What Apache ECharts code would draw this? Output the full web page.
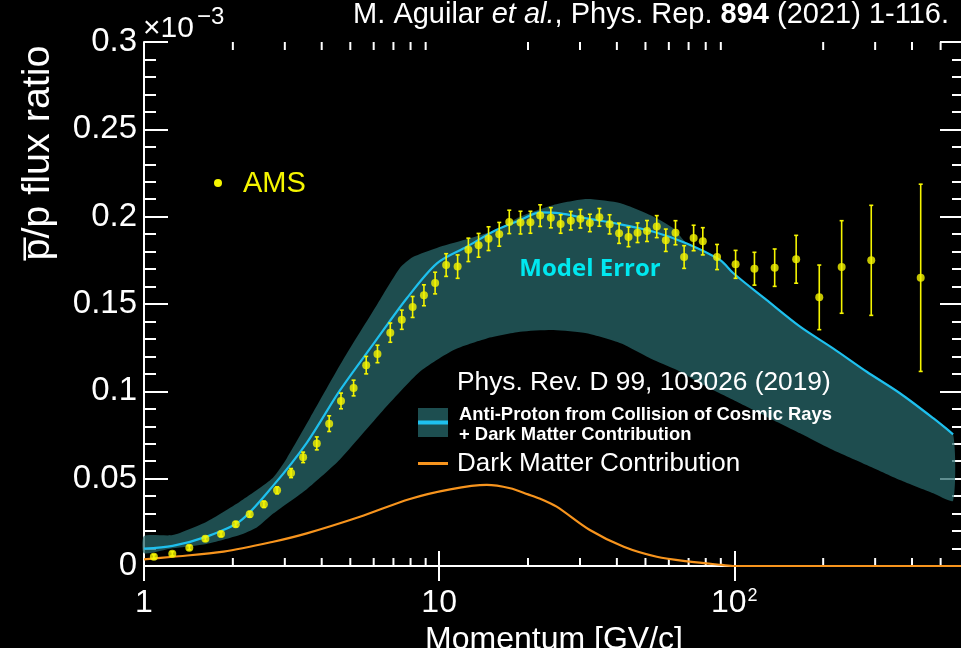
<!DOCTYPE html>
<html>
<head>
<meta charset="utf-8">
<script src="https://cdn.jsdelivr.net/npm/echarts@6/dist/echarts.min.js"></script>
<style>
  html, body { margin: 0; padding: 0; background: #000; }
  #chart { width: 961px; height: 648px; }
</style>
</head>
<body>
<div id="chart"></div>
<script>
// AMS antiproton-to-proton flux ratio (units of 1e-3) versus rigidity [GV/c]
const amsMomentum = [1.08, 1.247, 1.424, 1.614, 1.824, 2.046, 2.281, 2.548, 2.824, 3.15,
  3.46, 3.85, 4.24, 4.65, 5.13, 5.66, 6.18, 6.83, 7.47, 8.13,
  8.88, 9.69, 10.56, 11.55, 12.56, 13.6, 14.7, 15.98, 17.28, 18.86,
  20.38, 21.99, 23.9, 25.8, 27.93, 30.1, 32.4, 34.9, 37.8, 40.7,
  43.8, 47.0, 50.6, 54.6, 58.6, 63.2, 67.6, 72.8, 78.2, 87.4,
  101, 117, 137, 162, 194, 231, 291, 428];
const amsRatio = [0.0053, 0.0070, 0.0105, 0.0156, 0.0183, 0.0239, 0.0296, 0.0353, 0.0433, 0.0532,
  0.0622, 0.0702, 0.0815, 0.0945, 0.1019, 0.1150, 0.1214, 0.1336, 0.1410, 0.1483,
  0.1550, 0.1620, 0.1723, 0.1714, 0.1810, 0.1836, 0.1874, 0.1899, 0.1970, 0.1966,
  0.1968, 0.2006, 0.1994, 0.1958, 0.1977, 0.1988, 0.1964, 0.1996, 0.1956, 0.1905,
  0.1884, 0.1908, 0.1918, 0.1943, 0.1865, 0.1908, 0.1769, 0.1878, 0.1859, 0.1769,
  0.1727, 0.1702, 0.1708, 0.1756, 0.1538, 0.1712, 0.1750, 0.1650];
const amsError = [0.0012, 0.0012, 0.0012, 0.0013, 0.0014, 0.0015, 0.0016, 0.0018, 0.0020, 0.0026,
  0.0030, 0.0037, 0.0045, 0.0045, 0.0045, 0.0050, 0.0050, 0.0055, 0.0055, 0.0060,
  0.0060, 0.0062, 0.0065, 0.0067, 0.0067, 0.0068, 0.0068, 0.0068, 0.0067, 0.0065,
  0.0063, 0.0062, 0.0058, 0.0053, 0.0053, 0.0053, 0.0050, 0.0051, 0.0055, 0.0058,
  0.0056, 0.0056, 0.0060, 0.0063, 0.0064, 0.0069, 0.0065, 0.0073, 0.0078, 0.0072,
  0.0080, 0.0094, 0.0107, 0.0137, 0.0185, 0.0265, 0.0315, 0.0536];

// Model uncertainty band (cosmic-ray collisions + dark matter): upper and lower bounds
const bandUpperMomentum = [1, 1.25, 1.63, 2.11, 2.73, 3.05, 3.65, 4.72, 6.15, 7.36,
  8.15, 9.82, 12.1, 15.6, 18.8, 24.4, 31.6, 41.2, 53.3, 62.2,
  69, 89.5, 99.3, 128.5, 167, 216, 281, 364, 472, 551];
const bandUpper = [0.0172, 0.0177, 0.0254, 0.0368, 0.0504, 0.0618, 0.0847, 0.1179, 0.1494, 0.1706,
  0.1769, 0.1821, 0.1866, 0.1924, 0.2000, 0.2067, 0.2101, 0.2077, 0.2000, 0.1933,
  0.1847, 0.1752, 0.1676, 0.1523, 0.1370, 0.1246, 0.1112, 0.0989, 0.0846, 0.0754];
const bandLowerMomentum = [1, 1.25, 1.63, 2.11, 2.41, 2.74, 3.56, 4.61, 6.45, 8.6,
  11.2, 14.5, 18.8, 24.4, 31.6, 41.2, 53.3, 65.7, 76.5, 99.3,
  128.5, 167, 216, 281, 364, 472, 551];
const bandLower = [0.0073, 0.0101, 0.0126, 0.0177, 0.0220, 0.0300, 0.0440, 0.0610, 0.0890, 0.1112,
  0.1237, 0.1303, 0.1341, 0.1351, 0.1332, 0.1275, 0.1179, 0.1112, 0.1046, 0.0950,
  0.0855, 0.0760, 0.0664, 0.0578, 0.0492, 0.0416, 0.0374];

// Central model curve
const modelMomentum = [1, 1.25, 1.63, 2.11, 2.74, 3.56, 4.61, 5.98, 7.77, 9.83,
  12.4, 15.6, 18.8, 22, 25.7, 31.6, 41.2, 53.3, 69, 89.5,
  99.3, 128.5, 167, 216, 281, 364, 472, 551];
const modelRatio = [0.0099, 0.0115, 0.0168, 0.0255, 0.0460, 0.0705, 0.1005, 0.1270, 0.1533, 0.1733,
  0.1828, 0.1924, 0.1980, 0.2025, 0.2019, 0.1990, 0.1956, 0.1914, 0.1847, 0.1752,
  0.1676, 0.1523, 0.1370, 0.1246, 0.1112, 0.0989, 0.0846, 0.0754];

// Dark matter contribution alone
const dmMomentum = [1, 1.256, 1.86, 2.74, 3.56, 5.39, 7.96, 10.9, 14.5, 17.4,
  20, 22, 25, 32.4, 42.2, 54.6, 70.6, 91, 100, 600];
const dmRatio = [0.0038, 0.0053, 0.0082, 0.0139, 0.0187, 0.0282, 0.0384, 0.0439, 0.0464, 0.0445,
  0.0410, 0.0385, 0.0340, 0.0206, 0.0110, 0.0053, 0.0025, 0.0006, 0, 0];

// Axis ticks
const xTickLabels = ['1', '10', '10{sup|2}'];
const xMinorTicks = [2, 3, 4, 5, 6, 7, 8, 9, 20, 30, 40, 50, 60, 70, 80, 90, 200, 300, 400, 500];
const yTickLabels = ['0', '0.05', '0.1', '0.15', '0.2', '0.25', '0.3'];

const FONT = '"Liberation Sans", Arial, Helvetica, sans-serif';
const WHITE = '#ffffff';
const YELLOW = '#f5f500';
const CYAN = '#1ec0ee';
const ORANGE = '#f7941d';
const BAND = 'rgba(40,104,107,0.74)';

const chart = echarts.init(document.getElementById('chart'), null, { renderer: 'canvas' });

function zip(a, b) { return a.map((v, i) => [v, b[i]]); }

const axisLineStyle = { color: WHITE, width: 2 };

const option = {
  backgroundColor: '#000000',
  animation: false,
  grid: { left: 144, top: 42, width: 820, height: 524, containLabel: false, outerBoundsMode: 'none' },
  xAxis: [
    {
      type: 'log', logBase: 10, min: 1, max: 600, position: 'bottom',
      axisLine: { show: true, lineStyle: axisLineStyle },
      axisTick: { show: true, inside: true, length: 15, lineStyle: axisLineStyle },
      splitLine: { show: false },
      axisLabel: {
        show: true, margin: 21, color: WHITE, fontSize: 32, fontFamily: FONT,
        showMaxLabel: false,
        formatter: v => xTickLabels[Math.round(Math.log10(v))] || '',
        rich: { sup: { fontSize: 18, fontFamily: FONT, color: WHITE, verticalAlign: 'top', padding: [0, 0, 14, 1] } }
      },
      name: 'Momentum [GV/c]', nameLocation: 'middle', nameGap: 49,
      nameTextStyle: { color: WHITE, fontSize: 32, fontFamily: FONT }
    },
    {
      type: 'log', logBase: 10, min: 1, max: 600, position: 'top',
      axisLine: { show: true, lineStyle: axisLineStyle },
      axisTick: { show: true, inside: true, length: 15, lineStyle: axisLineStyle },
      splitLine: { show: false },
      axisLabel: { show: false }
    }
  ],
  yAxis: [
    {
      type: 'value', min: 0, max: 0.3, interval: 0.05, position: 'left',
      axisLine: { show: true, lineStyle: axisLineStyle },
      axisTick: { show: true, inside: true, length: 24, lineStyle: axisLineStyle },
      minorTick: { show: true, splitNumber: 5, length: 12, lineStyle: axisLineStyle },
      splitLine: { show: false },
      axisLabel: {
        margin: 7, color: WHITE, fontSize: 33, fontFamily: FONT,
        formatter: v => yTickLabels[Math.round(v / 0.05)]
      }
    },
    {
      type: 'value', min: 0, max: 0.3, interval: 0.05, position: 'right',
      axisLine: { show: true, lineStyle: axisLineStyle },
      axisTick: { show: true, inside: true, length: 24, lineStyle: axisLineStyle },
      minorTick: { show: true, splitNumber: 5, length: 12, lineStyle: axisLineStyle },
      splitLine: { show: false },
      axisLabel: { show: false }
    }
  ],
  series: [
    {
      // minor ticks of the logarithmic momentum axis (bottom and top frame)
      type: 'custom', xAxisIndex: 0, yAxisIndex: 0, silent: true, z: 1, clip: false,
      data: xMinorTicks.map(v => [v, 0]),
      renderItem: (params, api) => {
        const v = api.value(0);
        const b = api.coord([v, 0]);
        const t = api.coord([v, 0.3]);
        const st = { stroke: WHITE, lineWidth: 2 };
        return {
          type: 'group', children: [
            { type: 'line', shape: { x1: b[0], y1: b[1], x2: b[0], y2: b[1] - 8 }, style: st },
            { type: 'line', shape: { x1: t[0], y1: t[1], x2: t[0], y2: t[1] + 8 }, style: st }
          ]
        };
      }
    },
    {
      // model error band
      type: 'custom', xAxisIndex: 0, yAxisIndex: 0, silent: true, z: 3, clip: false,
      data: [[1, 0]],
      renderItem: (params, api) => {
        const pts = [];
        bandUpperMomentum.forEach((m, i) => pts.push(api.coord([m, bandUpper[i]])));
        for (let i = bandLowerMomentum.length - 1; i >= 0; i--) {
          pts.push(api.coord([bandLowerMomentum[i], bandLower[i]]));
        }
        return { type: 'polygon', shape: { points: pts, smooth: 0.2 }, style: { fill: BAND } };
      }
    },
    {
      type: 'line', xAxisIndex: 0, yAxisIndex: 0, z: 4, silent: true,
      data: zip(modelMomentum, modelRatio),
      showSymbol: false, smooth: 0.3,
      lineStyle: { color: CYAN, width: 2.2 }
    },
    {
      type: 'line', xAxisIndex: 0, yAxisIndex: 0, z: 4, silent: true, clip: false,
      data: zip(dmMomentum, dmRatio),
      showSymbol: false, smooth: 0.3,
      lineStyle: { color: ORANGE, width: 2.2 }
    },
    {
      // AMS error bars
      type: 'custom', xAxisIndex: 0, yAxisIndex: 0, silent: true, z: 5,
      data: amsMomentum.map((m, i) => [m, amsRatio[i] - amsError[i], amsRatio[i] + amsError[i]]),
      renderItem: (params, api) => {
        const lo = api.coord([api.value(0), api.value(1)]);
        const hi = api.coord([api.value(0), api.value(2)]);
        const st = { stroke: YELLOW, lineWidth: 1.6 };
        return {
          type: 'group', children: [
            { type: 'line', shape: { x1: lo[0], y1: lo[1], x2: hi[0], y2: hi[1] }, style: st },
            { type: 'line', shape: { x1: lo[0] - 2, y1: lo[1], x2: lo[0] + 2, y2: lo[1] }, style: st },
            { type: 'line', shape: { x1: hi[0] - 2, y1: hi[1], x2: hi[0] + 2, y2: hi[1] }, style: st }
          ]
        };
      }
    },
    {
      type: 'scatter', xAxisIndex: 0, yAxisIndex: 0, z: 6, silent: true,
      data: zip(amsMomentum, amsRatio),
      symbol: 'circle', symbolSize: 8,
      itemStyle: { color: YELLOW }
    }
  ],
  graphic: [
    {
      type: 'text', x: 949, y: 0, z: 10,
      style: {
        text: '{n|M. Aguilar }{i|et al.}{n|, Phys. Rep. }{b|894}{n| (2021) 1-116.}',
        align: 'right', textAlign: 'right', verticalAlign: 'top', textVerticalAlign: 'top',
        fill: WHITE, fontSize: 29, fontFamily: FONT,
        rich: {
          n: { fontSize: 29, fontFamily: FONT, fill: WHITE, color: WHITE },
          i: { fontSize: 29, fontFamily: FONT, fontStyle: 'italic', fill: WHITE, color: WHITE },
          b: { fontSize: 29, fontFamily: FONT, fontWeight: 'bold', fill: WHITE, color: WHITE }
        }
      }
    },
    {
      type: 'text', x: 143, y: 14, z: 10,
      style: { text: '\u00d710', fill: WHITE, fontSize: 30, fontFamily: FONT, align: 'left', textAlign: 'left', verticalAlign: 'top', textVerticalAlign: 'top' }
    },
    {
      type: 'text', x: 197, y: 5, z: 10,
      style: { text: '\u22123', fill: WHITE, fontSize: 24, fontFamily: FONT, align: 'left', textAlign: 'left', verticalAlign: 'top', textVerticalAlign: 'top' }
    },
    {
      type: 'text', x: 38, y: 153, rotation: Math.PI / 2, z: 10,
      style: { text: 'p\u0305/p flux ratio', fill: WHITE, fontSize: 39.5, fontFamily: FONT, align: 'center', textAlign: 'center', verticalAlign: 'middle', textVerticalAlign: 'middle' }
    },
    {
      type: 'circle', z: 10, shape: { cx: 218, cy: 183, r: 4 }, style: { fill: YELLOW }
    },
    {
      type: 'text', x: 243, y: 184, z: 10,
      style: { text: 'AMS', fill: YELLOW, fontSize: 29, fontFamily: FONT, align: 'left', textAlign: 'left', verticalAlign: 'middle', textVerticalAlign: 'middle' }
    },
    {
      type: 'text', x: 590, y: 269, z: 10,
      style: { text: 'Model Error', fill: '#00e8f0', fontSize: 24, fontWeight: 'bold', fontFamily: '"Open Sans", sans-serif', align: 'center', textAlign: 'center', verticalAlign: 'middle', textVerticalAlign: 'middle' }
    },
    {
      type: 'text', x: 457, y: 383, z: 10,
      style: { text: 'Phys. Rev. D 99, 103026 (2019)', fill: WHITE, fontSize: 26.3, fontFamily: FONT, align: 'left', textAlign: 'left', verticalAlign: 'middle', textVerticalAlign: 'middle' }
    },
    {
      type: 'rect', z: 10, shape: { x: 418, y: 408, width: 30, height: 29 }, style: { fill: '#1d4e50' }
    },
    {
      type: 'line', z: 11, shape: { x1: 418, y1: 422.5, x2: 448, y2: 422.5 }, style: { stroke: CYAN, lineWidth: 4 }
    },
    {
      type: 'text', x: 459, y: 415, z: 10,
      style: { text: 'Anti-Proton from Collision of Cosmic Rays', fill: WHITE, fontSize: 18.4, fontWeight: 'bold', fontFamily: FONT, align: 'left', textAlign: 'left', verticalAlign: 'middle', textVerticalAlign: 'middle' }
    },
    {
      type: 'text', x: 459, y: 435, z: 10,
      style: { text: '+ Dark Matter Contribution', fill: WHITE, fontSize: 18.4, fontWeight: 'bold', fontFamily: FONT, align: 'left', textAlign: 'left', verticalAlign: 'middle', textVerticalAlign: 'middle' }
    },
    {
      type: 'line', z: 11, shape: { x1: 418, y1: 463.5, x2: 448, y2: 463.5 }, style: { stroke: ORANGE, lineWidth: 3 }
    },
    {
      type: 'text', x: 457, y: 464, z: 10,
      style: { text: 'Dark Matter Contribution', fill: WHITE, fontSize: 26, fontFamily: FONT, align: 'left', textAlign: 'left', verticalAlign: 'middle', textVerticalAlign: 'middle' }
    }
  ]
};

chart.setOption(option);
</script>
</body>
</html>
